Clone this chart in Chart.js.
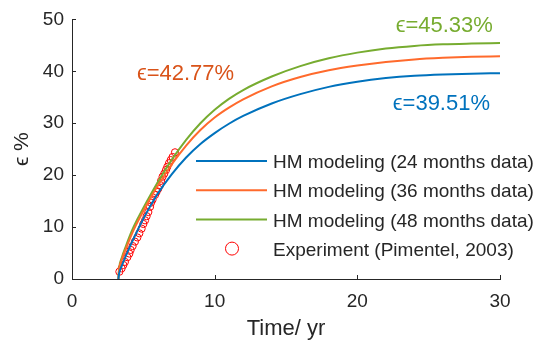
<!DOCTYPE html>
<html>
<head>
<meta charset="utf-8">
<script src="https://cdn.jsdelivr.net/npm/chart.js@4/dist/chart.umd.min.js"></script>
<style>
  body { margin: 0; background: #ffffff; }
  #chart { display: block; }
</style>
</head>
<body>
<canvas id="chart" width="541" height="346"></canvas>
<script>
// Data
var modelTime = [3.25, 3.3, 3.5, 3.8, 4.2, 4.6, 5.0, 5.5, 6.0, 7.0, 8.0, 9.0, 10, 11, 12, 14, 16, 18, 20, 22, 24, 26, 28, 30];
var strain24 = [0, 1.0, 2.6, 4.6, 7.1, 9.4, 11.6, 14.1, 16.4, 20.2, 23.4, 26.0, 28.1, 29.9, 31.4, 33.8, 35.6, 37.0, 38.0, 38.7, 39.15, 39.4, 39.55, 39.65];
var strain36 = [0, 1.8, 3.8, 6.0, 8.7, 11.0, 13.1, 15.6, 17.9, 22.1, 25.7, 28.7, 31.1, 33.0, 34.6, 37.1, 38.9, 40.2, 41.1, 41.8, 42.3, 42.6, 42.8, 42.9];
var strain48 = [0, 2.0, 4.2, 6.5, 9.3, 11.6, 13.7, 16.2, 18.6, 23.0, 26.8, 30.0, 32.6, 34.7, 36.4, 39.0, 41.0, 42.5, 43.6, 44.4, 44.9, 45.2, 45.35, 45.45];

var expTime = [3.32, 3.48, 3.60, 3.71, 3.88, 4.02, 4.11, 4.25, 4.41, 4.58, 4.72, 4.88, 5.00, 5.12, 5.23, 5.35, 5.47, 5.54, 5.65, 5.82, 5.93, 6.05, 6.17, 6.24, 6.35, 6.47, 6.59, 6.68, 6.80, 6.92, 7.05, 7.22];
var expStrain = [1.4, 2.05, 2.7, 3.3, 4.2, 4.9, 5.6, 6.35, 7.2, 8.0, 8.8, 9.7, 10.6, 11.3, 12.1, 12.9, 13.9, 14.7, 15.3, 16.2, 16.8, 17.4, 18.1, 18.9, 19.7, 20.3, 21.0, 21.6, 22.3, 22.9, 23.5, 24.4];

var seriesLabels = ["HM modeling (24 months data)", "HM modeling (36 months data)", "HM modeling (48 months data)", "Experiment (Pimentel, 2003)"];
var xTicks = [0, 10, 20, 30];
var yTicks = [0, 10, 20, 30, 40, 50];

var finalLabels = [
  { text: "\u03f5=42.77%", x: 4.55, y: 39.4, align: "left", color: "#D95319" },
  { text: "\u03f5=45.33%", x: 29.5, y: 48.8, align: "right", color: "#77AC30" },
  { text: "\u03f5=39.51%", x: 29.3, y: 33.8, align: "right", color: "#0072BD" }
];

var fontFamily = "'Liberation Sans', Arial, Helvetica, sans-serif";
var axisColor = "#262626";

function toPoints(xs, ys) {
  var pts = [];
  for (var i = 0; i < xs.length; i++) {
    pts.push({ x: xs[i], y: ys[i] });
  }
  return pts;
}

function lineSet(label, values, color) {
  return {
    label: label,
    data: toPoints(modelTime, values),
    borderColor: color,
    backgroundColor: color,
    borderWidth: 2,
    pointRadius: 0,
    fill: false,
    cubicInterpolationMode: "monotone"
  };
}

// inward tick marks, text labels and the legend
var extrasPlugin = {
  id: "extras",
  afterDraw: function (chart) {
    var ctx = chart.ctx;
    var xs = chart.scales.x, ys = chart.scales.y;
    var area = chart.chartArea;

    ctx.save();
    ctx.strokeStyle = axisColor;
    ctx.lineWidth = 1;
    ctx.beginPath();
    for (var i = 0; i < xTicks.length; i++) {
      var px = Math.round(xs.getPixelForValue(xTicks[i])) + 0.5;
      ctx.moveTo(px, area.bottom);
      ctx.lineTo(px, area.bottom - 4);
    }
    for (var j = 0; j < yTicks.length; j++) {
      var py = Math.round(ys.getPixelForValue(yTicks[j])) + 0.5;
      ctx.moveTo(area.left, py);
      ctx.lineTo(area.left + 4, py);
    }
    ctx.stroke();

    // final strain labels
    ctx.font = "22px " + fontFamily;
    ctx.textBaseline = "middle";
    finalLabels.forEach(function (l) {
      ctx.fillStyle = l.color;
      ctx.textAlign = l.align;
      ctx.fillText(l.text, xs.getPixelForValue(l.x), ys.getPixelForValue(l.y));
    });

    // legend
    var lx = 196, ly = 161, rowH = 29.2;
    ctx.font = "19px " + fontFamily;
    ctx.textAlign = "left";
    chart.data.datasets.forEach(function (ds, k) {
      var y = ly + k * rowH;
      if (ds.showLine === false) {
        ctx.beginPath();
        ctx.arc(lx + 36, y, 6.5, 0, Math.PI * 2);
        ctx.strokeStyle = ds.borderColor;
        ctx.lineWidth = 1;
        ctx.stroke();
      } else {
        ctx.beginPath();
        ctx.moveTo(lx, y);
        ctx.lineTo(lx + 71, y);
        ctx.strokeStyle = ds.borderColor;
        ctx.lineWidth = 2;
        ctx.stroke();
      }
      ctx.fillStyle = axisColor;
      ctx.fillText(ds.label, lx + 77, y + 2);
    });
    ctx.restore();
  }
};

var ctx = document.getElementById("chart").getContext("2d");
var chart = new Chart(ctx, {
  type: "line",
  data: {
    datasets: [
      lineSet(seriesLabels[0], strain24, "#0072BD"),
      lineSet(seriesLabels[1], strain36, "#FF6A2C"),
      lineSet(seriesLabels[2], strain48, "#77AC30"),
      {
        label: seriesLabels[3],
        data: toPoints(expTime, expStrain),
        showLine: false,
        borderColor: "#FF0000",
        backgroundColor: "rgba(0,0,0,0)",
        borderWidth: 1,
        pointStyle: "circle",
        pointRadius: 3.6
      }
    ]
  },
  options: {
    responsive: false,
    devicePixelRatio: 1,
    animation: false,
    layout: { padding: { top: 19, right: 41, left: 0, bottom: 0 } },
    plugins: {
      legend: { display: false },
      tooltip: { enabled: false }
    },
    scales: {
      x: {
        type: "linear",
        min: 0,
        max: 30,
        afterBuildTicks: function (scale) {
          scale.ticks = xTicks.map(function (v) { return { value: v }; });
        },
        afterFit: function (scale) { scale.height = 67; },
        grid: { display: false, drawTicks: false },
        border: { display: true, color: axisColor, width: 1 },
        ticks: { color: axisColor, font: { family: fontFamily, size: 19 }, padding: 11, maxRotation: 0 },
        title: { display: true, text: "Time/ yr", color: axisColor, font: { family: fontFamily, size: 22 }, padding: { top: 0, bottom: 4 } }
      },
      y: {
        type: "linear",
        min: 0,
        max: 50,
        afterBuildTicks: function (scale) {
          scale.ticks = yTicks.map(function (v) { return { value: v }; });
        },
        afterFit: function (scale) { scale.width = 72; },
        grid: { display: false, drawTicks: false },
        border: { display: true, color: axisColor, width: 1 },
        ticks: { color: axisColor, font: { family: fontFamily, size: 19 }, padding: 8 },
        title: { display: true, text: "\u03f5 %", color: axisColor, font: { family: fontFamily, size: 21 }, padding: { top: 10, bottom: 0 } }
      }
    }
  },
  plugins: [extrasPlugin]
});
</script>
</body>
</html>
